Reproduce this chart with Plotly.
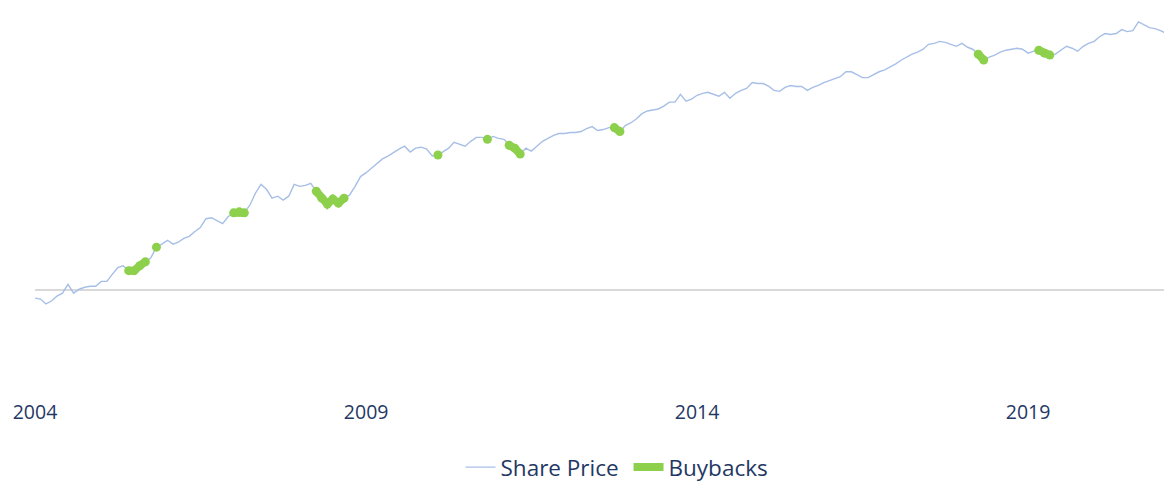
import plotly.graph_objects as go
import pandas as pd

# Monthly share price (index points relative to the reference line)
price_2004 = [-8, -9, -14, -11, -6, -3, 6, -3, 1, 3, 4, 4]
price_2005 = [9, 9, 16, 23, 25, 20, 20, 25, 29, 33, 44, 47]
price_2006 = [51, 47, 49, 53, 55, 60, 64, 73, 74, 71, 68, 75]
price_2007 = [79, 80, 79, 87, 99, 108, 103, 94, 96, 92, 96, 108]
price_2008 = [106, 107, 109, 101, 94, 88, 93, 89, 94, 97, 106, 116]
price_2009 = [120, 125, 129, 134, 137, 141, 144, 147, 141, 145, 146, 144]
price_2010 = [137, 138, 141, 145, 151, 149, 147, 152, 156, 156, 154, 157]
price_2011 = [155, 154, 148, 145, 139, 145, 142, 147, 152, 155, 158, 160]
price_2012 = [160, 161, 161, 162, 165, 167, 163, 164, 166, 166, 162, 168]
price_2013 = [171, 175, 180, 183, 184, 185, 188, 192, 192, 200, 193, 195]
price_2014 = [199, 201, 202, 200, 198, 202, 196, 201, 204, 206, 212, 211]
price_2015 = [211, 208, 204, 203, 207, 209, 208, 208, 204, 207, 209, 212]
price_2016 = [214, 216, 218, 223, 223, 220, 217, 217, 220, 223, 225, 228]
price_2017 = [231, 235, 238, 241, 243, 246, 251, 252, 254, 253, 251, 249]
price_2018 = [252, 248, 246, 241, 235, 238, 240, 243, 245, 246, 247, 246]
price_2019 = [242, 244, 245, 242, 240, 241, 245, 249, 247, 244, 249, 252]
price_2020 = [254, 259, 262, 261, 262, 266, 264, 265, 274, 271, 268, 267]
price_2021 = [265, 262, 253]

share_price = (price_2004 + price_2005 + price_2006 + price_2007 + price_2008
               + price_2009 + price_2010 + price_2011 + price_2012 + price_2013
               + price_2014 + price_2015 + price_2016 + price_2017 + price_2018
               + price_2019 + price_2020 + price_2021)

months = pd.date_range("2004-01-01", periods=len(share_price), freq="MS")

# Months in which buybacks took place
buyback_months = ["2005-06", "2005-07", "2005-08", "2005-09", "2005-11",
                  "2007-01", "2007-02", "2007-03",
                  "2008-04", "2008-05", "2008-06", "2008-07", "2008-08", "2008-09",
                  "2010-02", "2010-11", "2011-03", "2011-04", "2011-05",
                  "2012-10", "2012-11", "2018-04", "2018-05",
                  "2019-03", "2019-04", "2019-05", "2021-03"]

tick_dates = ["2004-01-01", "2009-01-01", "2014-01-01", "2019-01-01"]
tick_labels = ["2004", "2009", "2014", "2019"]

buyback_set = set(pd.to_datetime(buyback_months))
buybacks = [p if d in buyback_set else None for d, p in zip(months, share_price)]

NAVY = "#1F3864"
BLUE = "#A7BFE6"
GREEN = "#8DD04C"

fig = go.Figure()
fig.add_trace(go.Scatter(x=months, y=share_price, mode="lines", name="Share Price",
                         line=dict(color=BLUE, width=1.4)))
fig.add_trace(go.Scatter(x=months, y=buybacks, mode="lines", name="Buybacks",
                         line=dict(color=GREEN, width=8), connectgaps=False))
fig.add_trace(go.Scatter(x=months, y=buybacks, mode="markers", name="Buybacks",
                         marker=dict(color=GREEN, size=9), showlegend=False))

fig.update_layout(
    width=1164, height=481,
    margin=dict(l=27, r=0, t=4, b=83),
    plot_bgcolor="white", paper_bgcolor="white",
    font=dict(family="Open Sans", color=NAVY),
    showlegend=True,
    legend=dict(orientation="h", x=0.522, xanchor="center", y=-0.18, yanchor="middle",
                entrywidth=123, entrywidthmode="pixels",
                font=dict(size=22.5, color=NAVY), bgcolor="rgba(0,0,0,0)"),
    xaxis=dict(type="date", range=["2004-01-01", "2021-03-05"],
               tickvals=tick_dates, ticktext=tick_labels,
               tickfont=dict(size=19.5, color=NAVY),
               showgrid=False, zeroline=False, showline=False, ticks=""),
    yaxis=dict(range=[-110, 284], showticklabels=False, showgrid=False,
               zeroline=True, zerolinecolor="#D9D9D9", zerolinewidth=1.5,
               showline=False, ticks=""),
)

fig.write_html("out.html")
